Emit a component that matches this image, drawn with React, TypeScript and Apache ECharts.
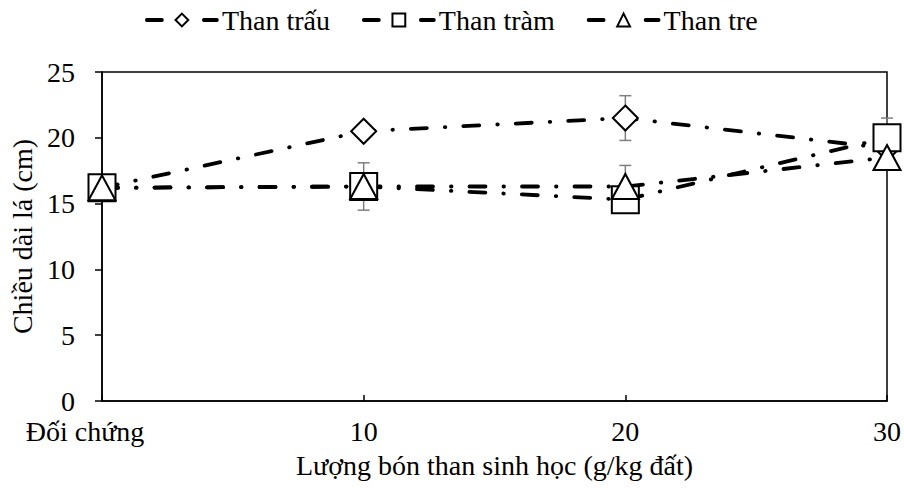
import React, { useEffect, useRef } from "react";
import * as echarts from "echarts";

const categories = ["Đối chứng", "10", "20", "30"];
const seriesNames = ["Than trấu", "Than tràm", "Than tre"];
const thanTrau = [16.2, 20.5, 21.5, 19.2];
const thanTram = [16.2, 16.3, 15.3, 20.0];
const thanTre = [16.2, 16.3, 16.3, 18.5];
const errTrau = [0.5, 0.5, 1.7, 0.5];
const errTram = [0.5, 1.8, 0.8, 1.5];
const errTre = [0.5, 0.6, 1.6, 0.8];
const yTicks = { min: 0, max: 25, interval: 5 };

const FONT = "Liberation Serif";
const FS = 28;

function errData(vals: number[], errs: number[]) {
  return vals.map((v, i) => [i, v - errs[i], v + errs[i]]);
}

function errSeries(vals: number[], errs: number[]) {
  return {
    type: "custom",
    z: 1,
    silent: true,
    data: errData(vals, errs),
    encode: { x: 0, y: [1, 2] },
    renderItem: (params: any, api: any) => {
      const x = api.value(0);
      const lo = api.coord([x, api.value(1)]);
      const hi = api.coord([x, api.value(2)]);
      const cap = 6;
      const style = { stroke: "#7f7f7f", lineWidth: 1.5, fill: "none" };
      return {
        type: "group",
        children: [
          { type: "line", shape: { x1: lo[0], y1: lo[1], x2: hi[0], y2: hi[1] }, style },
          { type: "line", shape: { x1: hi[0] - cap, y1: hi[1], x2: hi[0] + cap, y2: hi[1] }, style },
          { type: "line", shape: { x1: lo[0] - cap, y1: lo[1], x2: lo[0] + cap, y2: lo[1] }, style },
        ],
      };
    },
  };
}

const dash = [16, 18, 0.5, 18];

function lineSeries(name: string, data: number[], symbol: string, size: any) {
  return {
    name,
    type: "line",
    z: 3,
    data,
    symbol,
    symbolSize: size,
    showAllSymbol: true,
    lineStyle: { color: "#000", width: 3.8, type: dash, cap: "round" },
    itemStyle: { color: "#fff", borderColor: "#000", borderWidth: 2 },
  };
}

export default function App() {
  const ref = useRef<HTMLDivElement>(null);
  useEffect(() => {
    document.body.style.margin = "0";
    const chart = echarts.init(ref.current!, null, { renderer: "svg" });
    chart.setOption({
      animation: false,
      textStyle: { fontFamily: FONT },
      legend: {
        top: 1,
        left: 140,
        itemWidth: 70,
        itemHeight: 16,
        itemGap: 32,
        data: seriesNames,
        textStyle: { fontFamily: FONT, fontSize: FS, color: "#000" },
        lineStyle: { type: [15, 42], width: 3.8, cap: "round" },
      },
      grid: {
        left: 102,
        right: 14,
        top: 72,
        bottom: 87,
        show: true,
        borderColor: "#000",
        borderWidth: 1.5,
      },
      xAxis: {
        type: "category",
        data: categories,
        boundaryGap: false,
        name: "Lượng bón than sinh học (g/kg đất)",
        nameLocation: "middle",
        nameGap: 50,
        nameTextStyle: { fontFamily: FONT, fontSize: FS, color: "#000" },
        axisLine: { lineStyle: { color: "#000", width: 1.5 } },
        axisTick: { inside: true, length: 6, lineStyle: { color: "#000", width: 1.5 } },
        axisLabel: {
          fontFamily: FONT,
          fontSize: FS,
          color: "#000",
          margin: 16,
          formatter: (v: string, i: number) => (i === 0 ? "{first|" + v + "}" : v),
          rich: { first: { fontFamily: FONT, fontSize: FS, color: "#000", padding: [0, 34, 0, 0] } },
        },
        splitLine: { show: false },
      },
      yAxis: {
        type: "value",
        min: yTicks.min,
        max: yTicks.max,
        interval: yTicks.interval,
        name: "Chiều dài lá (cm)",
        nameLocation: "middle",
        nameGap: 66,
        nameRotate: 90,
        nameTextStyle: { fontFamily: FONT, fontSize: FS, color: "#000" },
        axisLine: { show: true, lineStyle: { color: "#000", width: 1.5 } },
        axisTick: { show: true, inside: false, length: 7, lineStyle: { color: "#000", width: 1.5 } },
        axisLabel: { fontFamily: FONT, fontSize: FS, color: "#000", margin: 27 },
        splitLine: { show: false },
      },
      series: [
        errSeries(thanTrau, errTrau),
        errSeries(thanTram, errTram),
        errSeries(thanTre, errTre),
        lineSeries(seriesNames[0], thanTrau, "diamond", 25),
        lineSeries(seriesNames[1], thanTram, "rect", 27),
        lineSeries(seriesNames[2], thanTre, "triangle", [27, 25]),
      ],
    });
    return () => chart.dispose();
  }, []);
  return <div ref={ref} style={{ width: 904, height: 488 }} />;
}
